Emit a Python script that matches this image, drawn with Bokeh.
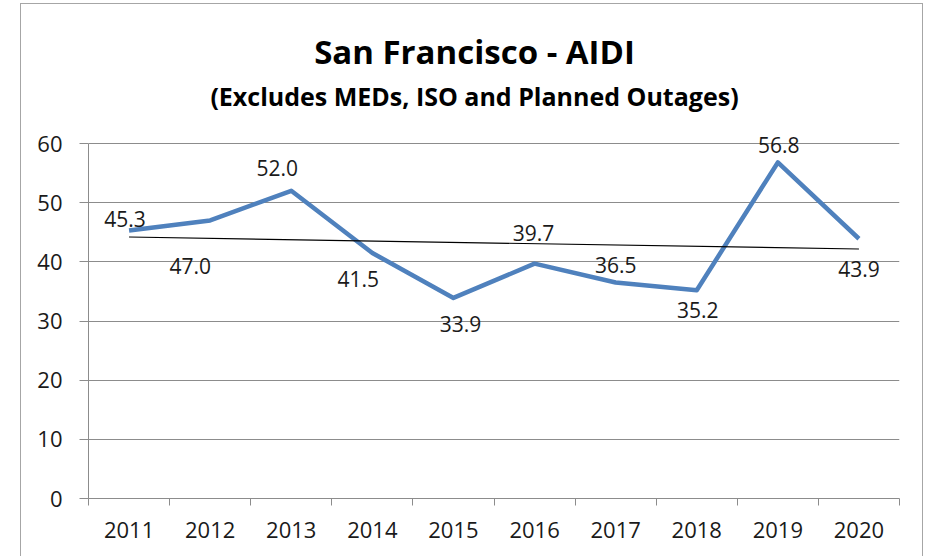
import numpy as np
from bokeh.plotting import figure
from bokeh.models import Range1d, FixedTicker, Label, ColumnDataSource
from bokeh.core.properties import value
from bokeh.embed import file_html
from bokeh.resources import INLINE

# ---- data ----
years = [2011, 2012, 2013, 2014, 2015, 2016, 2017, 2018, 2019, 2020]
aidi = [45.3, 47.0, 52.0, 41.5, 33.9, 39.7, 36.5, 35.2, 56.8, 43.9]
year_labels = [str(y) for y in years]
y_ticks = [0, 10, 20, 30, 40, 50, 60]
title_text = "San Francisco - AIDI"
subtitle_text = "(Excludes MEDs, ISO and Planned Outages)"

# ---- label placement (screen px, +dy = down) ----
label_dx = [-4, -20, -14, -14, 7, -1, 0, 1, 1, 0]
label_dy = [-11, 46, -23, 26, 26, -31, -18, 20, -17, 30]

FONT = "Open Sans"
GRAY = "#8c8c8c"
TXT = "#1a1a1a"

# the chart sits inside a bordered box whose top-left corner is at (OX, OY)
OX, OY = 21, 4
W, H = 901, 552
LEFT, RIGHT, BOTTOM = 88 - OX, 23, 58
AXIS_TOP_PX = 143 - OY                # canvas y where the value 60 sits
frame_h = H - BOTTOM
y_top = y_ticks[-1] * frame_h / (frame_h - AXIS_TOP_PX)

p = figure(width=W, height=H, output_backend="svg", toolbar_location=None,
           x_range=Range1d(years[0] - 0.5, years[-1] + 0.5),
           y_range=Range1d(y_ticks[0], y_top),
           min_border_left=LEFT, min_border_right=RIGHT,
           min_border_top=0, min_border_bottom=BOTTOM,
           styles={"margin-left": f"{OX}px", "margin-top": f"{OY}px",
                   "outline": "1.5px solid #a6a6a6"})
p.title.visible = False
p.outline_line_color = None
p.background_fill_color = "white"
p.border_fill_color = "white"

# axes
p.xaxis.ticker = FixedTicker(ticks=years, minor_ticks=[years[0] - 0.5 + i for i in range(len(years) + 1)])
p.xaxis.major_label_overrides = {y: s for y, s in zip(years, year_labels)}
p.xaxis.major_tick_out = 0
p.xaxis.major_tick_in = 0
p.xaxis.minor_tick_out = 7
p.xaxis.minor_tick_in = 0
p.xaxis.minor_tick_line_color = GRAY
p.xaxis.axis_line_color = GRAY
p.xaxis.major_label_standoff = 16
p.xgrid.visible = False

p.yaxis.ticker = FixedTicker(ticks=y_ticks, minor_ticks=[])
p.yaxis.bounds = (y_ticks[0], y_ticks[-1])
p.yaxis.major_tick_out = 9
p.yaxis.major_tick_in = 0
p.yaxis.major_tick_line_color = GRAY
p.yaxis.minor_tick_line_color = None
p.yaxis.axis_line_color = GRAY
p.yaxis.major_label_standoff = 17
p.ygrid.grid_line_color = GRAY
p.ygrid.grid_line_width = 1

for ax in (p.xaxis, p.yaxis):
    ax.major_label_text_font = FONT
    ax.major_label_text_font_size = "22px"
    ax.major_label_text_color = TXT

# series
src = ColumnDataSource(dict(x=years, y=aidi, lab=[f"{v:.1f}" for v in aidi],
                            dx=label_dx, dy=label_dy))
p.line("x", "y", source=src, line_color="#4F81BD", line_width=4.5, line_join="round")

# linear trend
coef = np.polyfit(years, aidi, 1)
trend_x = [years[0], years[-1]]
trend_y = list(np.polyval(coef, trend_x))
p.line(trend_x, trend_y, line_color="black", line_width=1.2)

p.text("x", "y", text="lab", source=src, x_offset="dx", y_offset="dy",
       text_align="center", text_baseline="middle",
       text_font=value(FONT), text_font_size="21px", text_color=TXT)

# titles
p.add_layout(Label(x=474 - OX, y=51 - OY, x_units="canvas", y_units="canvas", text=title_text,
                   text_align="center", text_baseline="middle", text_font=FONT,
                   text_font_style="bold", text_font_size="33px", text_color="black"))
p.add_layout(Label(x=474 - OX, y=95 - OY, x_units="canvas", y_units="canvas", text=subtitle_text,
                   text_align="center", text_baseline="middle", text_font=FONT,
                   text_font_style="bold", text_font_size="25px", text_color="black"))

open("out.html", "w").write(file_html(p, INLINE))
